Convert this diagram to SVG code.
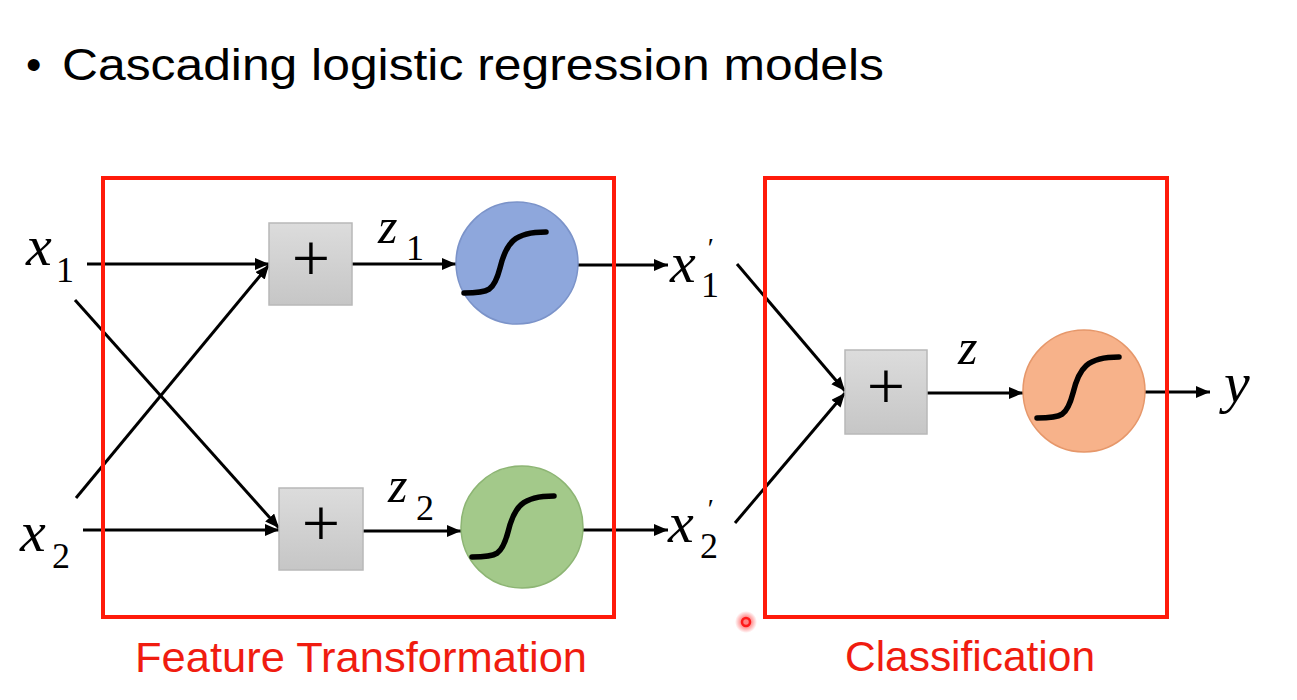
<svg xmlns="http://www.w3.org/2000/svg" width="1297" height="700" viewBox="0 0 1297 700">
  <defs>
    <linearGradient id="gBox" x1="0" y1="0" x2="0" y2="1">
      <stop offset="0" stop-color="#dcdcdc"/>
      <stop offset="1" stop-color="#c6c6c6"/>
    </linearGradient>
    <marker id="arr" markerUnits="userSpaceOnUse" markerWidth="16" markerHeight="14" refX="14" refY="6" orient="auto">
      <path d="M0,0 L14,6 L0,12 Z" fill="#000"/>
    </marker>
    <path id="sig" d="M -50 30 C -25 30, -20 28, -14 5 C -8 -20, 0 -31, 32 -31" fill="none" stroke="#000" stroke-width="5.5" stroke-linecap="round"/>
    <radialGradient id="dotGlow">
      <stop offset="0.4" stop-color="#ff3030" stop-opacity="0.6"/>
      <stop offset="1" stop-color="#ff3030" stop-opacity="0"/>
    </radialGradient>
  </defs>
  <style>
    .title { font-family: "Liberation Sans", "Open Sans", sans-serif; font-size: 44px; fill: #000; }
    .lbl { font-family: "Liberation Sans", "Open Sans", sans-serif; font-size: 42px; fill: #f01c10; }
    .frame { fill: none; stroke: #ff1a0a; stroke-width: 4; }
    .box { fill: url(#gBox); stroke: #b8b8b8; stroke-width: 1.5; }
    .plus { font-family: "Liberation Serif", serif; font-size: 68px; text-anchor: middle; fill: #000; }
    .conn line { stroke: #000; stroke-width: 3; marker-end: url(#arr); }
    .var { font-family: "Liberation Serif", "DejaVu Serif", serif; font-style: italic; fill: #000; }
    .big { font-size: 58px; }
    .mid { font-size: 50px; }
    .sub { font-family: "Liberation Serif", "DejaVu Serif", serif; font-size: 36px; font-style: normal; fill: #000; }
    .pr { font-family: "Liberation Serif", "DejaVu Serif", serif; font-size: 28px; font-style: italic; fill: #000; }
  </style>

  <!-- Title -->
  <g id="title">
    <text class="title" x="26" y="80">•</text>
    <text class="title" x="62" y="80" textLength="822" lengthAdjust="spacingAndGlyphs">Cascading logistic regression models</text>
  </g>

  <!-- Connectors -->
  <g id="connectors" class="conn">
    <line x1="87" y1="264" x2="269" y2="264"/>
    <line x1="76" y1="498" x2="269" y2="265"/>
    <line x1="75" y1="300" x2="279" y2="528"/>
    <line x1="83" y1="530" x2="279" y2="530"/>
    <line x1="352" y1="264" x2="456" y2="264"/>
    <line x1="363" y1="531" x2="461" y2="531"/>
    <line x1="578" y1="265" x2="668" y2="265"/>
    <line x1="583" y1="530" x2="668" y2="530"/>
    <line x1="737" y1="264" x2="845" y2="391"/>
    <line x1="735" y1="523" x2="845" y2="393"/>
    <line x1="927" y1="393" x2="1023" y2="393"/>
    <line x1="1145" y1="392" x2="1210" y2="392"/>
  </g>

  <!-- Input labels -->
  <g id="x1">
    <text class="var big" x="26" y="265">x</text>
    <text class="sub" x="56" y="282">1</text>
  </g>
  <g id="x2">
    <text class="var big" x="20" y="551">x</text>
    <text class="sub" x="52" y="568">2</text>
  </g>

  <!-- Sum nodes -->
  <g id="sum1">
    <rect class="box" x="269" y="223" width="83" height="82"/>
    <text class="plus" x="311" y="281">+</text>
  </g>
  <g id="sum2">
    <rect class="box" x="279" y="488" width="84" height="82"/>
    <text class="plus" x="321" y="546">+</text>
  </g>
  <g id="sum3">
    <rect class="box" x="845" y="350" width="82" height="84"/>
    <text class="plus" x="886" y="409">+</text>
  </g>

  <!-- z labels -->
  <g id="z1">
    <text class="var mid" x="378" y="243">z</text>
    <text class="sub" x="406" y="260">1</text>
  </g>
  <g id="z2">
    <text class="var mid" x="388" y="502">z</text>
    <text class="sub" x="416" y="520">2</text>
  </g>
  <g id="z3">
    <text class="var mid" x="958" y="364">z</text>
  </g>

  <!-- Sigmoid nodes -->
  <g id="sig1">
    <circle cx="517" cy="263" r="61" fill="#8ea7dc" stroke="#7b93c9" stroke-width="1.5"/>
    <use href="#sig" transform="translate(514,263)"/>
  </g>
  <g id="sig2">
    <circle cx="522" cy="527" r="61" fill="#a3c98a" stroke="#8db574" stroke-width="1.5"/>
    <use href="#sig" transform="translate(522,527)"/>
  </g>
  <g id="sig3">
    <circle cx="1084" cy="391" r="61" fill="#f7b28a" stroke="#e6976a" stroke-width="1.5"/>
    <use href="#sig" transform="translate(1087,388)"/>
  </g>

  <!-- Intermediate labels -->
  <g id="x1p">
    <text class="var big" x="670" y="282">x</text>
    <text class="pr" x="706" y="257">′</text>
    <text class="sub" x="701" y="297">1</text>
  </g>
  <g id="x2p">
    <text class="var big" x="668" y="542">x</text>
    <text class="pr" x="706" y="518">′</text>
    <text class="sub" x="700" y="558">2</text>
  </g>
  <g id="y">
    <text class="var big" x="1224" y="402">y</text>
  </g>

  <!-- Frames -->
  <g id="featureTransformation">
    <rect class="frame" x="103" y="178" width="511" height="439"/>
    <text class="lbl" x="135" y="672" textLength="452" lengthAdjust="spacingAndGlyphs">Feature Transformation</text>
  </g>
  <g id="classification">
    <rect class="frame" x="765" y="178" width="402" height="439"/>
    <text class="lbl" x="845" y="671" textLength="250" lengthAdjust="spacingAndGlyphs">Classification</text>
  </g>

  <!-- pointer dot -->
  <g id="pointer">
    <circle cx="746" cy="622" r="11" fill="url(#dotGlow)"/>
    <circle cx="746" cy="622" r="4" fill="none" stroke="#ff1a1a" stroke-width="2.5"/>
  </g>
</svg>
